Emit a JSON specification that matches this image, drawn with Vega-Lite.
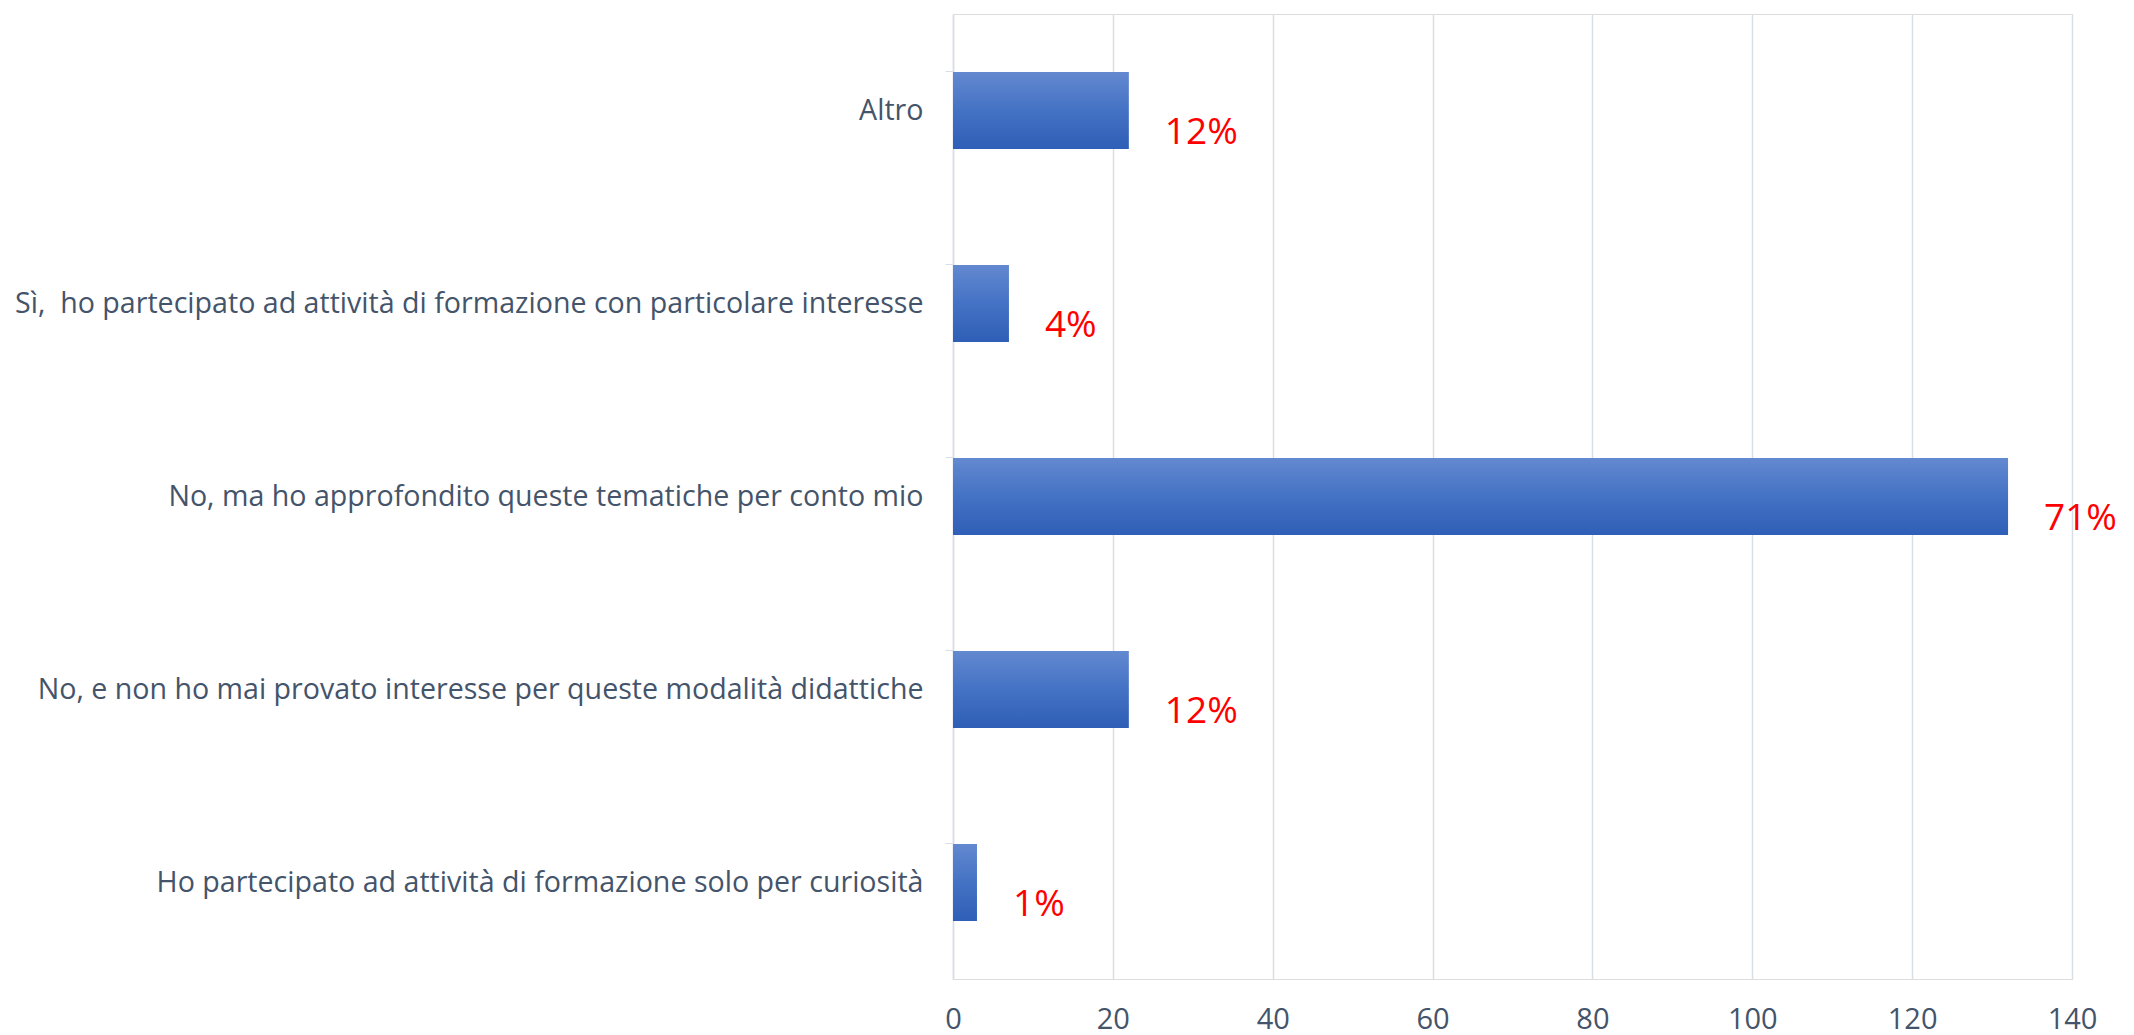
{
  "$schema": "https://vega.github.io/schema/vega-lite/v6.json",
  "autosize": "none",
  "width": 1119,
  "height": 965,
  "padding": {"left": 953, "top": 14, "right": 62, "bottom": 56},
  "background": "white",
  "data": {
    "values": [
      {"risposta": "Altro", "n": 22, "pct": "12%"},
      {"risposta": "Sì, \u00a0ho partecipato ad attività di formazione con particolare interesse", "n": 7, "pct": "4%"},
      {"risposta": "No, ma ho approfondito queste tematiche per conto mio", "n": 132, "pct": "71%"},
      {"risposta": "No, e non ho mai provato interesse per queste modalità didattiche", "n": 22, "pct": "12%"},
      {"risposta": "Ho partecipato ad attività di formazione solo per curiosità", "n": 3, "pct": "1%"}
    ]
  },
  "encoding": {
    "y": {
      "field": "risposta", "type": "nominal", "sort": null,
      "scale": {"paddingInner": 0.6, "paddingOuter": 0.3},
      "axis": {
        "title": null, "labelFont": "Open Sans", "labelFontSize": 28.6, "labelColor": "#44546A",
        "labelPadding": 22, "tickSize": 8, "tickColor": "#D9DEE6", "domainColor": "#D9DEE6",
        "domainWidth": 1.5, "bandPosition": 0, "labelBound": false, "labelLimit": 1000, "grid": false
      }
    },
    "x": {
      "field": "n", "type": "quantitative",
      "scale": {"domain": [0, 140], "nice": false},
      "axis": {
        "title": null, "values": [0, 20, 40, 60, 80, 100, 120, 140],
        "labelFont": "Open Sans", "labelFontSize": 29, "labelColor": "#44546A", "labelPadding": 26,
        "labelFlush": false, "labelBound": false,
        "domain": false, "ticks": false, "grid": true, "gridColor": "#D9DEE6", "gridWidth": 1.5
      }
    }
  },
  "layer": [
    {
      "mark": {
        "type": "bar",
        "color": {
          "gradient": "linear", "x1": 0, "y1": 0, "x2": 0, "y2": 1,
          "stops": [
            {"offset": 0, "color": "#6389D0"},
            {"offset": 0.5, "color": "#4472C4"},
            {"offset": 1, "color": "#2E5EB6"}
          ]
        }
      }
    },
    {
      "mark": {"type": "text", "align": "left", "baseline": "middle", "dx": 36, "dy": 22, "font": "Open Sans", "fontSize": 37, "color": "#FF0000"},
      "encoding": {"text": {"field": "pct"}}
    }
  ]
}
